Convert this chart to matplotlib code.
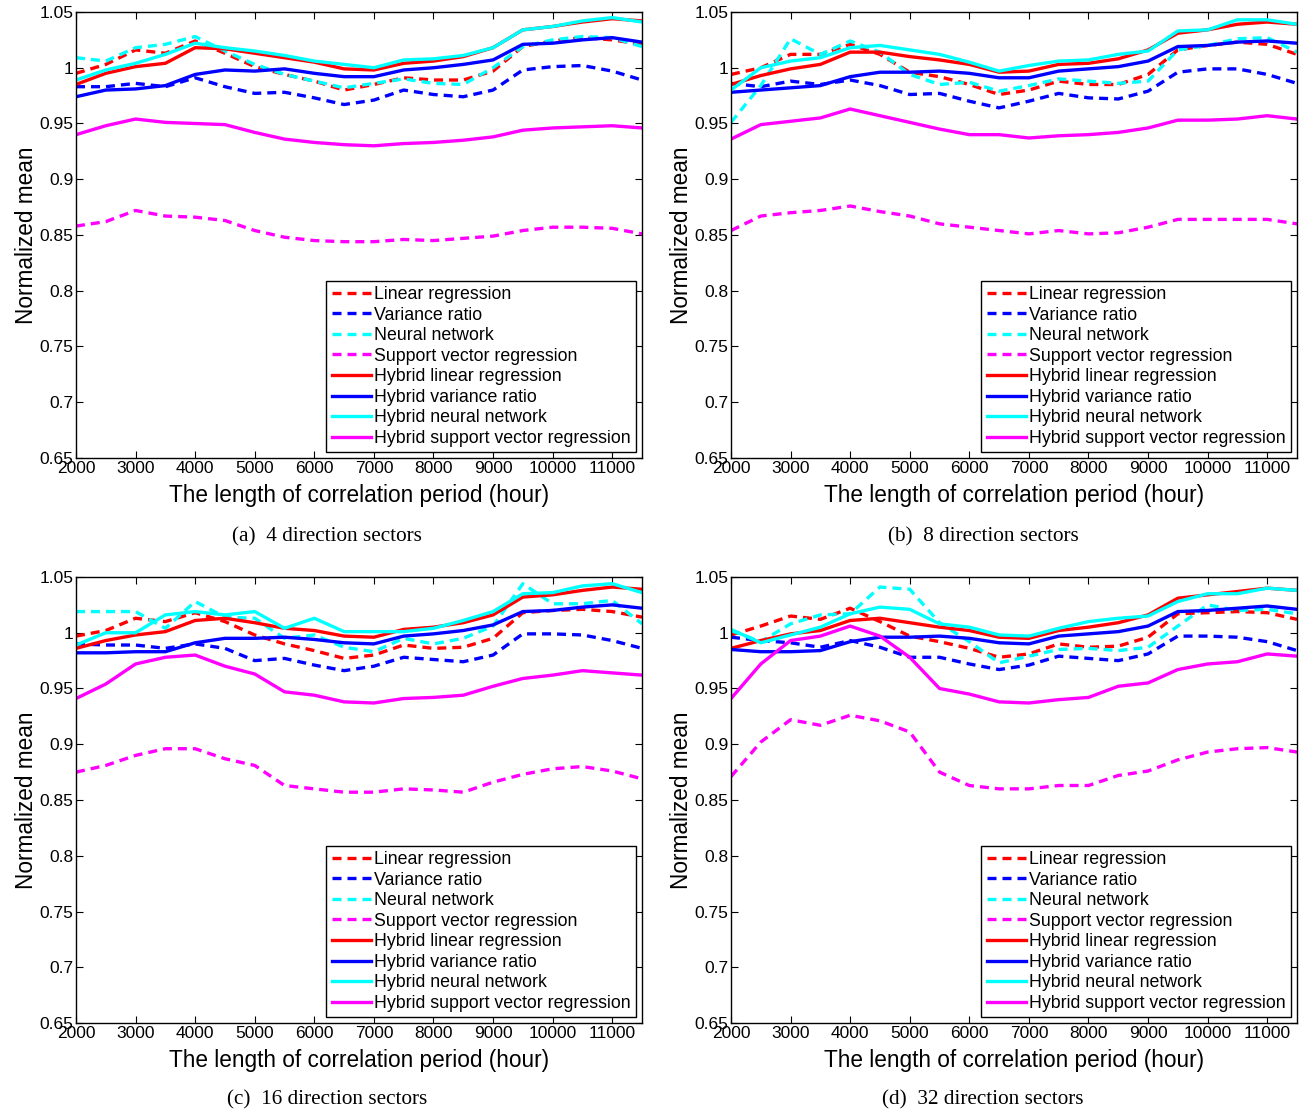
import numpy as np
import matplotlib
matplotlib.use('Agg')
import matplotlib.pyplot as plt
from matplotlib.ticker import FormatStrFormatter

plt.rcParams['font.family'] = ['Liberation Sans', 'DejaVu Sans']

# correlation period (hour)
hours = list(range(2000, 12000, 500))

labels = ['Linear regression', 'Variance ratio', 'Neural network', 'Support vector regression',
          'Hybrid linear regression', 'Hybrid variance ratio', 'Hybrid neural network',
          'Hybrid support vector regression']
captions = ['(a)  4 direction sectors', '(b)  8 direction sectors',
            '(c)  16 direction sectors', '(d)  32 direction sectors']

# (a) 4 sectors
lr_a = [0.995, 1.003, 1.016, 1.013, 1.024, 1.013, 1.001, 0.994, 0.988, 0.980, 0.985, 0.991, 0.989, 0.989, 0.997, 1.019, 1.024, 1.027, 1.025, 1.021]
vr_a = [0.983, 0.983, 0.986, 0.983, 0.991, 0.983, 0.977, 0.978, 0.973, 0.967, 0.971, 0.980, 0.976, 0.974, 0.980, 0.998, 1.001, 1.002, 0.997, 0.989]
nn_a = [1.009, 1.006, 1.018, 1.021, 1.028, 1.015, 1.003, 0.994, 0.988, 0.982, 0.986, 0.990, 0.986, 0.985, 1.000, 1.019, 1.025, 1.028, 1.027, 1.019]
svr_a = [0.858, 0.862, 0.872, 0.867, 0.866, 0.863, 0.854, 0.848, 0.845, 0.844, 0.844, 0.846, 0.845, 0.847, 0.849, 0.854, 0.857, 0.857, 0.856, 0.851]
hlr_a = [0.985, 0.995, 1.001, 1.004, 1.018, 1.017, 1.013, 1.009, 1.005, 0.999, 0.998, 1.004, 1.006, 1.010, 1.018, 1.034, 1.037, 1.041, 1.044, 1.042]
hvr_a = [0.974, 0.980, 0.981, 0.984, 0.994, 0.998, 0.997, 0.999, 0.995, 0.992, 0.992, 0.998, 1.000, 1.003, 1.007, 1.021, 1.022, 1.025, 1.027, 1.023]
hnn_a = [0.989, 0.998, 1.004, 1.012, 1.022, 1.018, 1.015, 1.011, 1.006, 1.003, 1.000, 1.007, 1.008, 1.011, 1.018, 1.034, 1.037, 1.042, 1.045, 1.041]
hsvr_a = [0.940, 0.948, 0.954, 0.951, 0.950, 0.949, 0.942, 0.936, 0.933, 0.931, 0.930, 0.932, 0.933, 0.935, 0.938, 0.944, 0.946, 0.947, 0.948, 0.946]

# (b) 8 sectors
lr_b = [0.994, 1.000, 1.012, 1.012, 1.021, 1.012, 0.996, 0.992, 0.985, 0.976, 0.980, 0.988, 0.985, 0.985, 0.994, 1.016, 1.020, 1.023, 1.021, 1.012]
vr_b = [0.986, 0.983, 0.988, 0.985, 0.989, 0.984, 0.976, 0.977, 0.970, 0.964, 0.970, 0.977, 0.973, 0.972, 0.979, 0.996, 0.999, 0.999, 0.994, 0.986]
nn_b = [0.951, 0.984, 1.026, 1.012, 1.024, 1.014, 0.994, 0.985, 0.987, 0.979, 0.984, 0.990, 0.988, 0.986, 0.988, 1.016, 1.020, 1.026, 1.027, 1.014]
svr_b = [0.854, 0.867, 0.870, 0.872, 0.876, 0.871, 0.867, 0.860, 0.857, 0.854, 0.851, 0.854, 0.851, 0.852, 0.857, 0.864, 0.864, 0.864, 0.864, 0.860]
hlr_b = [0.985, 0.993, 0.999, 1.003, 1.014, 1.014, 1.010, 1.007, 1.003, 0.996, 0.997, 1.003, 1.004, 1.008, 1.016, 1.031, 1.034, 1.039, 1.041, 1.039]
hvr_b = [0.978, 0.980, 0.982, 0.984, 0.992, 0.996, 0.996, 0.997, 0.995, 0.991, 0.991, 0.997, 0.999, 1.001, 1.006, 1.019, 1.020, 1.023, 1.024, 1.022]
hnn_b = [0.980, 1.000, 1.006, 1.009, 1.018, 1.020, 1.016, 1.012, 1.005, 0.997, 1.002, 1.006, 1.007, 1.012, 1.015, 1.033, 1.034, 1.043, 1.043, 1.039]
hsvr_b = [0.936, 0.949, 0.952, 0.955, 0.963, 0.957, 0.951, 0.945, 0.940, 0.940, 0.937, 0.939, 0.940, 0.942, 0.946, 0.953, 0.953, 0.954, 0.957, 0.954]

# (c) 16 sectors
lr_c = [0.997, 1.002, 1.013, 1.010, 1.018, 1.010, 0.998, 0.990, 0.984, 0.977, 0.980, 0.989, 0.986, 0.987, 0.995, 1.018, 1.020, 1.021, 1.019, 1.014]
vr_c = [0.990, 0.989, 0.989, 0.986, 0.990, 0.986, 0.975, 0.977, 0.971, 0.966, 0.970, 0.978, 0.976, 0.974, 0.980, 0.999, 0.999, 0.998, 0.993, 0.986]
nn_c = [1.019, 1.019, 1.019, 1.004, 1.028, 1.014, 1.013, 0.995, 0.998, 0.987, 0.983, 0.995, 0.990, 0.995, 1.006, 1.044, 1.026, 1.026, 1.029, 1.008]
svr_c = [0.875, 0.881, 0.890, 0.896, 0.896, 0.887, 0.881, 0.863, 0.860, 0.857, 0.857, 0.860, 0.859, 0.857, 0.866, 0.873, 0.878, 0.880, 0.876, 0.869]
hlr_c = [0.986, 0.993, 0.998, 1.001, 1.011, 1.013, 1.009, 1.004, 1.002, 0.997, 0.996, 1.003, 1.005, 1.009, 1.016, 1.032, 1.034, 1.038, 1.041, 1.039]
hvr_c = [0.982, 0.982, 0.983, 0.983, 0.991, 0.995, 0.995, 0.996, 0.994, 0.991, 0.990, 0.997, 0.999, 1.002, 1.007, 1.019, 1.020, 1.023, 1.025, 1.022]
hnn_c = [0.989, 1.000, 1.000, 1.016, 1.019, 1.016, 1.019, 1.004, 1.013, 1.001, 1.001, 1.001, 1.004, 1.011, 1.019, 1.035, 1.036, 1.042, 1.044, 1.036]
hsvr_c = [0.941, 0.954, 0.972, 0.978, 0.980, 0.970, 0.963, 0.947, 0.944, 0.938, 0.937, 0.941, 0.942, 0.944, 0.952, 0.959, 0.962, 0.966, 0.964, 0.962]

# (d) 32 sectors
lr_d = [0.998, 1.006, 1.015, 1.012, 1.022, 1.010, 0.997, 0.992, 0.986, 0.978, 0.981, 0.990, 0.987, 0.988, 0.996, 1.017, 1.018, 1.019, 1.018, 1.012]
vr_d = [0.996, 0.993, 0.991, 0.987, 0.993, 0.987, 0.978, 0.978, 0.972, 0.967, 0.971, 0.979, 0.977, 0.975, 0.981, 0.997, 0.997, 0.996, 0.992, 0.984]
nn_d = [1.002, 0.992, 1.008, 1.016, 1.017, 1.041, 1.039, 1.009, 0.992, 0.973, 0.979, 0.985, 0.986, 0.984, 0.987, 1.006, 1.025, 1.020, 1.021, 1.017]
svr_d = [0.871, 0.902, 0.922, 0.917, 0.926, 0.921, 0.911, 0.875, 0.863, 0.860, 0.860, 0.863, 0.863, 0.872, 0.876, 0.886, 0.893, 0.896, 0.897, 0.893]
hlr_d = [0.986, 0.993, 0.999, 1.002, 1.011, 1.013, 1.009, 1.005, 1.002, 0.996, 0.995, 1.002, 1.005, 1.009, 1.016, 1.031, 1.034, 1.037, 1.040, 1.038]
hvr_d = [0.985, 0.983, 0.983, 0.984, 0.992, 0.996, 0.996, 0.997, 0.995, 0.991, 0.990, 0.997, 0.999, 1.001, 1.006, 1.019, 1.020, 1.022, 1.024, 1.021]
hnn_d = [1.003, 0.991, 0.998, 1.005, 1.017, 1.023, 1.021, 1.008, 1.005, 0.998, 0.997, 1.004, 1.010, 1.013, 1.015, 1.028, 1.035, 1.035, 1.040, 1.038]
hsvr_d = [0.941, 0.972, 0.993, 0.997, 1.006, 0.997, 0.978, 0.950, 0.945, 0.938, 0.937, 0.940, 0.942, 0.952, 0.955, 0.967, 0.972, 0.974, 0.981, 0.979]

panels = [
    [lr_a, vr_a, nn_a, svr_a, hlr_a, hvr_a, hnn_a, hsvr_a],
    [lr_b, vr_b, nn_b, svr_b, hlr_b, hvr_b, hnn_b, hsvr_b],
    [lr_c, vr_c, nn_c, svr_c, hlr_c, hvr_c, hnn_c, hsvr_c],
    [lr_d, vr_d, nn_d, svr_d, hlr_d, hvr_d, hnn_d, hsvr_d],
]
colors = ['#ff0000', '#0000ff', '#00ffff', '#ff00ff'] * 2
dash = (0, (2.7, 1.8))
styles = [dash] * 4 + ['-'] * 4

W, H = 1299, 1112
fig = plt.figure(figsize=(W / 100, H / 100), dpi=100)

# pixel boxes: left, top of each axes
boxes = [(76, 12), (731, 12), (76, 577), (731, 577)]
aw, ah = 566, 446
cap_x = [327, 983, 327, 983]
cap_y = [537, 537, 1100, 1100]

for i, series in enumerate(panels):
    l, t = boxes[i]
    ax = fig.add_axes([l / W, 1 - (t + ah) / H, aw / W, ah / H])
    for ys, c, ls, lab in zip(series, colors, styles, labels):
        ax.plot(hours, ys, color=c, linestyle=ls, linewidth=2.4, label=lab)
    ax.set_xlim(2000, 11500)
    ax.set_ylim(0.65, 1.05)
    ax.set_xticks(range(2000, 12000, 1000))
    ax.set_yticks(np.arange(0.65, 1.051, 0.05))
    ax.yaxis.set_major_formatter(FormatStrFormatter('%g'))
    ax.tick_params(direction='in', top=True, right=True, labelsize=12.5, length=5, width=0.8, pad=2)
    for s in ax.spines.values():
        s.set_linewidth(1.0)
    ax.set_xlabel('The length of correlation period (hour)', fontsize=16.3, labelpad=6)
    ax.set_ylabel('Normalized mean', fontsize=16.3, labelpad=1)
    leg = ax.legend(loc='lower right', bbox_to_anchor=(0.99, 0.013), borderaxespad=0,
                    fontsize=12.8, handlelength=2.2, handletextpad=0.2, labelspacing=0.2,
                    borderpad=0.3, fancybox=False, framealpha=1, edgecolor='black')
    leg.get_frame().set_linewidth(1.0)
    fig.text(cap_x[i] / W, 1 - cap_y[i] / H, captions[i], ha='center', va='center',
             fontsize=15.3, family=['Liberation Serif', 'DejaVu Serif'])

fig.savefig('out.png', dpi=100)
